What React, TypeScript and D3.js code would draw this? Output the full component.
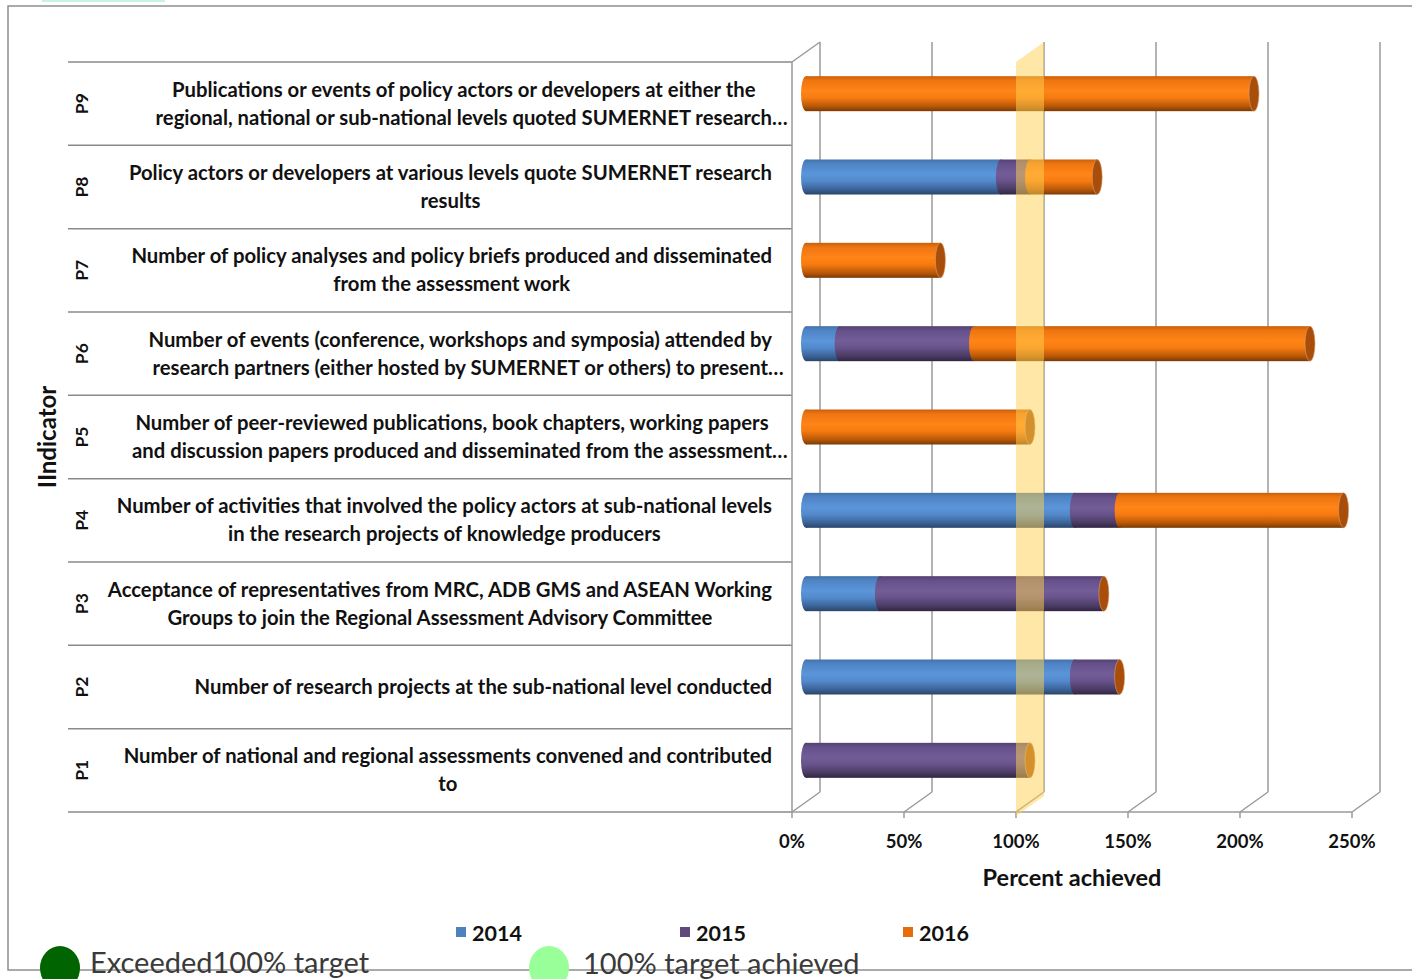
import React, { useEffect, useRef } from 'react';
import * as d3 from 'd3';

// ---------- data ----------
const categories = ['P1', 'P2', 'P3', 'P4', 'P5', 'P6', 'P7', 'P8', 'P9'];
const labelLines: string[][] = [
  ['Number of national and regional assessments convened and contributed', 'to'],
  ['Number of research projects at the sub-national level conducted'],
  ['Acceptance of representatives from MRC, ADB GMS and ASEAN Working', 'Groups to join the Regional Assessment Advisory Committee'],
  ['Number of activities that involved the policy actors at sub-national levels', 'in the research projects of knowledge producers'],
  ['Number of peer-reviewed publications, book chapters, working papers', 'and discussion papers produced and disseminated from the assessment…'],
  ['Number of events (conference, workshops and symposia) attended by', 'research partners (either hosted by SUMERNET or others) to present…'],
  ['Number of policy analyses and policy briefs produced and disseminated', 'from the assessment work'],
  ['Policy actors or developers at various levels quote SUMERNET research', 'results'],
  ['Publications or events of policy actors or developers at either the', 'regional, national or sub-national levels quoted SUMERNET research…'],
];
const seriesNames = ['2014', '2015', '2016'];
const values2014 = [0, 120, 33, 120, 0, 15, 0, 87, 0];
const values2015 = [100, 20, 100, 20, 0, 60, 0, 13, 0];
const values2016 = [0, 0, 0, 100, 100, 150, 60, 30, 200];
const xTicks = [0, 50, 100, 150, 200, 250];
const targetValue = 100;
const statusLabels = ['Exceeded100% target', '100% target achieved'];

// ---------- styles ----------
const seriesColors = ['#4f81bd', '#604a7b', '#e46c0a'];
const gradStops = [
  [['0', '#4272aa'], ['0.12', '#4f84c4'], ['0.42', '#5b95da'], ['0.62', '#5389cb'], ['0.86', '#3a6296'], ['1', '#2a4468']],
  [['0', '#544070'], ['0.12', '#64508a'], ['0.42', '#735d98'], ['0.62', '#67528a'], ['0.86', '#4a3a62'], ['1', '#302540']],
  [['0', '#c8600a'], ['0.12', '#ee7410'], ['0.42', '#ff8518'], ['0.62', '#f67a10'], ['0.86', '#b85808'], ['1', '#7a3a04']],
];
const capColor = '#a84e0a';
const FONT = 'Lato, "Open Sans", sans-serif';
const W = 1412;
const H = 979;

const front = { x0: 792, x1: 1352, yTop: 62, yBottom: 812 };
const depth = { dx: 28, dy: -20 };

export default function App() {
  const labelsRef = useRef<SVGGElement>(null);

  const x = d3.scaleLinear().domain([0, 250]).range([front.x0, front.x1]);
  const y = d3.scaleBand<string>().domain([...categories].reverse()).range([front.yTop, front.yBottom]).padding(0);
  const allValues = [values2014, values2015, values2016];

  const barH = y.bandwidth() * 0.42;
  const rx = 5;
  const midDx = depth.dx / 2;
  const midDy = depth.dy / 2;

  useEffect(() => {
    const draw = () => {
      const g = d3.select(labelsRef.current);
      g.selectAll('*').remove();
      const lineH = 28;
      const labelRight = 772;
      categories.forEach((c, i) => {
        const lines = labelLines[i];
        const cy = (y(c) as number) + y.bandwidth() / 2;
        const n = lines.length;
        const items = lines.map((ln, j) => {
          const trunc = ln.endsWith('…');
          const body = trunc ? ln.slice(0, -1) : ln;
          const t = g
            .append('text')
            .attr('y', cy + (j - (n - 1) / 2) * lineH)
            .attr('dy', '0.35em')
            .attr('font-family', FONT)
            .attr('font-weight', 700)
            .attr('font-size', 20.3)
            .attr('fill', '#111')
            .text(body);
          const w = (t.node() as SVGTextElement).getComputedTextLength();
          return { t, w, trunc };
        });
        const maxW = d3.max(items, (d) => d.w) as number;
        const cx = labelRight - maxW / 2;
        items.forEach((it) => {
          it.t.attr('x', cx - it.w / 2);
          if (it.trunc) it.t.append('tspan').text('…');
        });
      });
    };
    if ((document as any).fonts && (document as any).fonts.ready) {
      (document as any).fonts.ready.then(draw);
    } else draw();
  }, []);

  const gridColor = '#9a9a9a';
  const backX = (v: number) => x(v) + depth.dx;
  const yBackTop = front.yTop + depth.dy;
  const yBackBottom = front.yBottom + depth.dy;

  const bars = categories.map((c, i) => {
    const cy = (y(c) as number) + y.bandwidth() / 2 + midDy;
    let acc = 0;
    const segs = allValues
      .map((vals, s) => {
        const start = acc;
        acc += vals[i];
        return { s, start, end: acc };
      })
      .filter((d) => d.end > d.start);
    return { c, cy, segs, total: acc };
  });

  const tx = x(targetValue);

  return (
    <svg
      width={W}
      height={H}
      style={{ position: 'absolute', left: 0, top: 0, background: '#fff' }}
      fontFamily={FONT}
    >
      <defs>
        {gradStops.map((stops, s) => (
          <linearGradient key={s} id={`cyl-${s}`} x1="0" y1="0" x2="0" y2="1">
            {stops.map(([o, col]) => (
              <stop key={o} offset={o} stopColor={col} />
            ))}
          </linearGradient>
        ))}
      </defs>
      <rect x={0} y={0} width={W} height={H} fill="#fff" />
      <rect x={42} y={0} width={123} height={2} fill="#c6f3e6" />
      <rect x={8} y={6} width={W + 20} height={964} fill="none" stroke="#8f8f8f" strokeWidth={1.5} />

      {[...y.domain().map((c) => y(c) as number), front.yBottom].map((yy, i) => (
        <line key={`h${i}`} x1={68} x2={front.x0} y1={yy} y2={yy} stroke="#8a8a8a" strokeWidth={1.5} />
      ))}

      <line x1={front.x0} x2={front.x0} y1={front.yTop} y2={front.yBottom} stroke={gridColor} strokeWidth={1.5} />
      <line x1={front.x0} x2={front.x0 + depth.dx} y1={front.yTop} y2={yBackTop} stroke={gridColor} strokeWidth={1.5} />
      {xTicks.map((t) => (
        <g key={`g${t}`}>
          <line x1={backX(t)} x2={backX(t)} y1={yBackTop} y2={yBackBottom} stroke={gridColor} strokeWidth={1.5} />
          <line x1={backX(t)} x2={x(t)} y1={yBackBottom} y2={front.yBottom} stroke={gridColor} strokeWidth={1.5} />
          <line x1={x(t)} x2={x(t)} y1={front.yBottom} y2={front.yBottom + 6} stroke={gridColor} strokeWidth={1.5} />
        </g>
      ))}
      <line x1={front.x0} x2={front.x1} y1={front.yBottom} y2={front.yBottom} stroke={gridColor} strokeWidth={1.5} />

      {bars.map((b) => (
        <g key={b.c}>
          {b.segs.map((sg) => {
            const xs = x(sg.start) + midDx;
            const xe = x(sg.end) + midDx;
            return (
              <g key={sg.s}>
                <ellipse cx={xs} cy={b.cy} rx={rx} ry={barH / 2} fill={`url(#cyl-${sg.s})`} />
                <rect x={xs} y={b.cy - barH / 2} width={xe - xs} height={barH} fill={`url(#cyl-${sg.s})`} />
              </g>
            );
          })}
          {b.total > 0 && (
            <ellipse
              cx={x(b.total) + midDx}
              cy={b.cy}
              rx={rx}
              ry={barH / 2}
              fill={capColor}
              stroke="#d9a070"
              strokeWidth={0.6}
            />
          )}
        </g>
      ))}

      <polygon
        points={`${tx},${front.yTop} ${tx + depth.dx},${yBackTop} ${tx + depth.dx},${yBackBottom + 4} ${tx},${front.yBottom + 4}`}
        fill="#ffd24f"
        fillOpacity={0.5}
      />

      {xTicks.map((t) => (
        <text key={`t${t}`} x={x(t)} y={848} textAnchor="middle" fontSize={18.5} fontWeight={700} fill="#111">
          {t}%
        </text>
      ))}
      <text x={(front.x0 + front.x1) / 2} y={886} textAnchor="middle" fontSize={23.5} fontWeight={700} fill="#111">
        Percent achieved
      </text>

      <text transform="translate(48,437) rotate(-90)" textAnchor="middle" dy="0.35em" fontSize={24} fontWeight={700} fill="#111">
        IIndicator
      </text>
      {categories.map((c) => (
        <text
          key={`id${c}`}
          transform={`translate(82,${(y(c) as number) + y.bandwidth() / 2}) rotate(-90)`}
          textAnchor="middle"
          dy="0.35em"
          fontSize={17.5}
          fontWeight={700}
          fill="#111"
        >
          {c}
        </text>
      ))}

      <g ref={labelsRef} />

      {seriesNames.map((s, i) => {
        const lx = [456, 680, 903][i];
        return (
          <g key={s}>
            <rect x={lx} y={927} width={10} height={10} fill={seriesColors[i]} />
            <text x={lx + 16} y={941} fontSize={21.5} fontWeight={700} fill="#111">
              {s}
            </text>
          </g>
        );
      })}

      <ellipse cx={60} cy={968} rx={20} ry={22} fill="#006400" />
      <text x={90} y={973} fontSize={29} fill="#3a3a3a">
        {statusLabels[0]}
      </text>
      <ellipse cx={549} cy={968} rx={20} ry={22} fill="#99ff99" />
      <text x={583} y={974} fontSize={29} fill="#3a3a3a">
        {statusLabels[1]}
      </text>
    </svg>
  );
}
